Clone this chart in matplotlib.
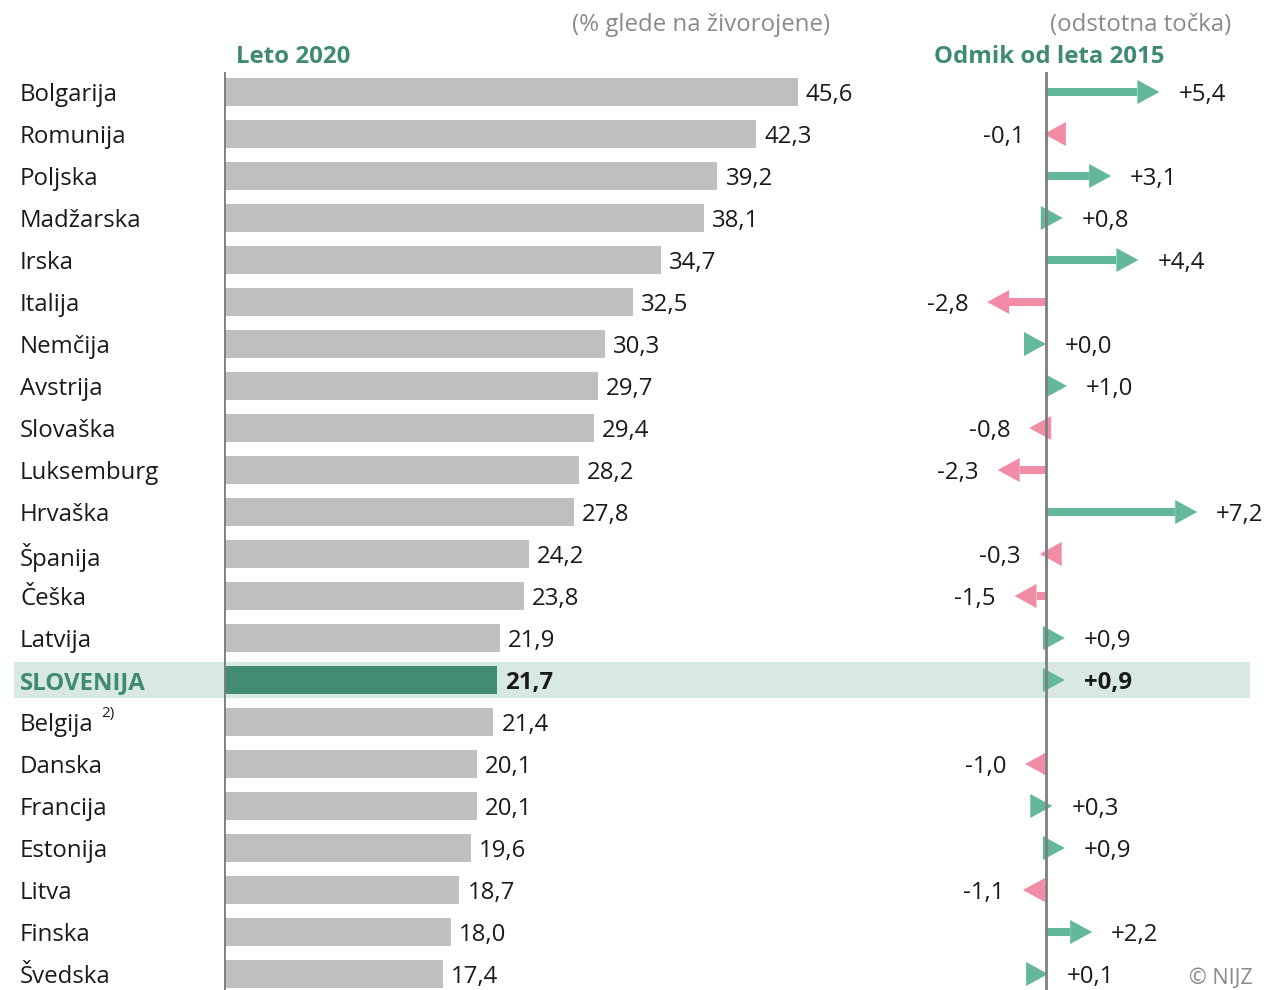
import matplotlib
matplotlib.use("Agg")
import matplotlib.pyplot as plt
from matplotlib.patches import Polygon, Rectangle
from matplotlib.transforms import blended_transform_factory
import numpy as np

plt.rcParams['font.family'] = ['Open Sans', 'DejaVu Sans']

countries = ["Bolgarija", "Romunija", "Poljska", "Madžarska", "Irska", "Italija", "Nemčija",
             "Avstrija", "Slovaška", "Luksemburg", "Hrvaška", "Španija", "Češka", "Latvija",
             "SLOVENIJA", "Belgija", "Danska", "Francija", "Estonija", "Litva", "Finska", "Švedska"]
share_2020 = [45.6, 42.3, 39.2, 38.1, 34.7, 32.5, 30.3, 29.7, 29.4, 28.2, 27.8, 24.2, 23.8, 21.9,
              21.7, 21.4, 20.1, 20.1, 19.6, 18.7, 18.0, 17.4]
change_2015 = [5.4, -0.1, 3.1, 0.8, 4.4, -2.8, 0.0, 1.0, -0.8, -2.3, 7.2, -0.3, -1.5, 0.9,
               0.9, None, -1.0, 0.3, 0.9, -1.1, 2.2, 0.1]
footnotes = {"Belgija": "2)"}
highlight = "SLOVENIJA"

title_left = "Leto 2020"
unit_left = "(% glede na živorojene)"
title_right = "Odmik od leta 2015"
unit_right = "(odstotna točka)"
source = "© NIJZ"

GREY_BAR = "#bfbfbf"
HL_BAR = "#428b74"
HL_BAND = "#d8e8e3"
GREEN = "#63b89a"
PINK = "#f08ca5"
HEAD_GREEN = "#3f8a72"
AXIS = "#7f7f7f"
TXT = "#1a1a1a"
SUB = "#8a8a8a"
FS = 17.3
DY = -3  # pixel shift of text downward

W, H = 1265, 990
fig = plt.figure(figsize=(W / 100, H / 100), dpi=100)

n = len(countries)
y0_px, step_px = 92, 42
ytop = -(y0_px - 72) / step_px
ybot = (H - y0_px) / step_px

# left axes (bars)
l_left, l_right = 224, 900
scale_l = (798 - 224) / 45.6
ax1 = fig.add_axes([l_left / W, 0, (l_right - l_left) / W, (H - 72) / H])
ax1.set_xlim(0, (l_right - l_left) / scale_l)
ax1.set_ylim(ybot, ytop)

# right axes (arrows)
r_left, r_right, zero_px = 900, 1265, 1046
scale_r = 21.0
ax2 = fig.add_axes([r_left / W, 0, (r_right - r_left) / W, (H - 72) / H])
ax2.set_xlim((r_left - zero_px) / scale_r, (r_right - zero_px) / scale_r)
ax2.set_ylim(ybot, ytop)

for ax in (ax1, ax2):
    ax.axis("off")
    ax.patch.set_alpha(0)

ypos = np.arange(n)
hl_idx = countries.index(highlight)

# highlight band
tr = blended_transform_factory(fig.transFigure, ax1.transData)
band_h = 36 / step_px
ax1.add_patch(Rectangle((14 / W, hl_idx - band_h / 2), (1250 - 14) / W, band_h,
                        transform=tr, facecolor=HL_BAND, edgecolor="none", zorder=0.5,
                        clip_on=False))

colors = [HL_BAR if c == highlight else GREY_BAR for c in countries]
ax1.barh(ypos, share_2020, height=28 / step_px, color=colors, zorder=2)
ax1.axvline(0, color=AXIS, lw=2, zorder=3)
ax2.axvline(0, color=AXIS, lw=2, zorder=3)

for i, (c, v) in enumerate(zip(countries, share_2020)):
    bold = c == highlight
    ax1.annotate(f"{v:.1f}".replace(".", ","), (v, i), xytext=(8, DY), textcoords="offset pixels",
                 ha="left", va="center", fontsize=FS, color=TXT,
                 fontweight="bold" if bold else "normal", zorder=4)
    t = ax1.annotate(c, (20 / W, i), xycoords=tr, xytext=(0, DY), textcoords="offset pixels",
                     ha="left", va="center", fontsize=FS, annotation_clip=False,
                     color=HEAD_GREEN if bold else TXT, fontweight="bold" if bold else "normal",
                     zorder=4)
    if c in footnotes:
        fig.canvas.draw()
        bb = t.get_window_extent()
        ax1.annotate(footnotes[c], ((bb.x1 + 7) / W, i), xycoords=tr, xytext=(0, 9),
                     textcoords="offset pixels", fontsize=11, color=TXT, ha="left",
                     va="center", annotation_clip=False)

# arrows
hl = 22 / scale_r
hw = 12 / step_px
sw = 4 / step_px
for i, (c, v) in enumerate(zip(countries, change_2015)):
    if v is None:
        continue
    s = 1 if v >= 0 else -1
    col = GREEN if s > 0 else PINK
    base = v - s * hl
    ax2.add_patch(Polygon([[v, i], [base, i - hw], [base, i + hw]], closed=True,
                          facecolor=col, edgecolor="none", zorder=2))
    if s * base > 0:
        ax2.add_patch(Rectangle((min(0, base), i - sw), abs(base), 2 * sw,
                                facecolor=col, edgecolor="none", zorder=2))
    lab = ("+" if s > 0 else "") + f"{v:.1f}".replace(".", ",")
    bold = c == highlight
    ax2.annotate(lab, (v, i), xytext=(19 * s, DY), textcoords="offset pixels",
                 ha="left" if s > 0 else "right", va="center", fontsize=FS, color=TXT,
                 fontweight="bold" if bold else "normal", annotation_clip=False)

# headers
fig.text(236 / W, 1 - 57 / H, title_left, fontsize=FS, fontweight="bold", color=HEAD_GREEN,
         ha="left", va="center")
fig.text(830 / W, 1 - 25 / H, unit_left, fontsize=FS, color=SUB, ha="right", va="center")
fig.text(934 / W, 1 - 57 / H, title_right, fontsize=FS, fontweight="bold", color=HEAD_GREEN,
         ha="left", va="center")
fig.text(1231 / W, 1 - 25 / H, unit_right, fontsize=FS, color=SUB, ha="right", va="center")
fig.text(1253 / W, 1 - 979 / H, source, fontsize=15.5, color=SUB, ha="right", va="center")

fig.savefig("out.png", dpi=100)
